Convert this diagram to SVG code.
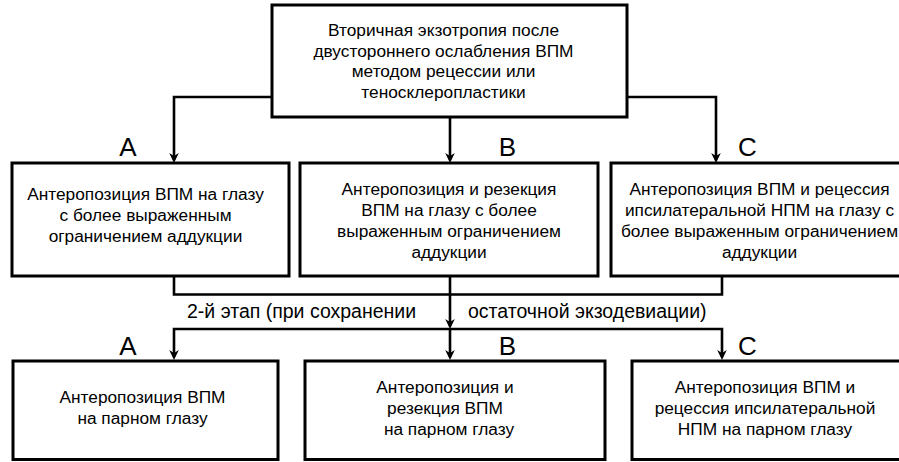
<svg xmlns="http://www.w3.org/2000/svg" width="899" height="462" viewBox="0 0 899 462">
<style>
.box{fill:#fff;stroke:#000;stroke-width:3}
.t{font-family:"Liberation Sans",Arial,sans-serif;font-size:17.3px;fill:#000;text-anchor:middle}
.lbl{font-family:"Liberation Sans",Arial,sans-serif;font-size:26px;fill:#000;text-anchor:middle}
.stage{font-family:"Liberation Sans",Arial,sans-serif;font-size:19.5px;fill:#000}
.c{fill:none;stroke:#000;stroke-width:2.6}
.a{fill:none;stroke:#000;stroke-width:2.6;marker-end:url(#arr)}
</style>
<defs>
<marker id="arr" markerUnits="userSpaceOnUse" markerWidth="14" markerHeight="12" viewBox="-10 -6 14 12" refX="0" refY="0" orient="auto">
<path d="M3,0 L-7,-4.8 L-4,0 L-7,4.8 Z" fill="#000"/>
</marker>
</defs>
<g id="connectors">
<path class="a" d="M272,97 H174 V160"/>
<path class="a" d="M450,117 V160"/>
<path class="a" d="M627,97 H716 V160"/>
<path class="c" d="M174,276 V294.5 H722 V276"/>
<path class="a" d="M450,276 V326"/>
<path class="a" d="M450,329 V357"/>
<path class="a" d="M450,329 H174 V357"/>
<path class="a" d="M450,329 H722 V357"/>
</g>
<g id="top">
<rect class="box" x="272" y="5" width="355" height="112"/>
<text class="t" x="443.5" y="36">Вторичная экзотропия после</text>
<text class="t" x="443.5" y="56.5">двустороннего ослабления ВПМ</text>
<text class="t" x="443.5" y="77">методом рецессии или</text>
<text class="t" x="443.5" y="97.5">теносклеропластики</text>
</g>
<g id="labels1">
<text class="lbl" x="128" y="156">A</text>
<text class="lbl" x="507.5" y="156">B</text>
<text class="lbl" x="747.5" y="156">C</text>
</g>
<g id="a1">
<rect class="box" x="12" y="163" width="277" height="113"/>
<text class="t" x="145.5" y="200">Антеропозиция ВПМ на глазу</text>
<text class="t" x="145.5" y="221">с более выраженным</text>
<text class="t" x="145.5" y="242">ограничением аддукции</text>
</g>
<g id="b1">
<rect class="box" x="300" y="163" width="298" height="113"/>
<text class="t" x="449" y="195">Антеропозиция и резекция</text>
<text class="t" x="449" y="216">ВПМ на глазу с более</text>
<text class="t" x="449" y="237">выраженным ограничением</text>
<text class="t" x="449" y="258">аддукции</text>
</g>
<g id="c1">
<rect class="box" x="611" y="163" width="298" height="113"/>
<text class="t" x="759.5" y="195">Антеропозиция ВПМ и рецессия</text>
<text class="t" x="759.5" y="216">ипсилатеральной НПМ на глазу с</text>
<text class="t" x="759.5" y="237">более выраженным ограничением</text>
<text class="t" x="759.5" y="258">аддукции</text>
</g>
<g id="stage2">
<text class="stage" x="187" y="318">2-й этап (при сохранении</text>
<text class="stage" x="468" y="318">остаточной экзодевиации)</text>
</g>
<g id="labels2">
<text class="lbl" x="128" y="355">A</text>
<text class="lbl" x="507.5" y="355">B</text>
<text class="lbl" x="747.5" y="355">C</text>
</g>
<g id="a2">
<rect class="box" x="13" y="361" width="265" height="98.5"/>
<text class="t" x="142.5" y="403">Антеропозиция ВПМ</text>
<text class="t" x="142.5" y="424">на парном глазу</text>
</g>
<g id="b2">
<rect class="box" x="305" y="361" width="300" height="98.5"/>
<text class="t" x="445" y="393">Антеропозиция и</text>
<text class="t" x="445" y="414">резекция ВПМ</text>
<text class="t" x="449" y="435">на парном глазу</text>
</g>
<g id="c2">
<rect class="box" x="632" y="361" width="280" height="98.5"/>
<text class="t" x="765" y="393">Антеропозиция ВПМ и</text>
<text class="t" x="765" y="414">рецессия ипсилатеральной</text>
<text class="t" x="765" y="435">НПМ на парном глазу</text>
</g>
</svg>
